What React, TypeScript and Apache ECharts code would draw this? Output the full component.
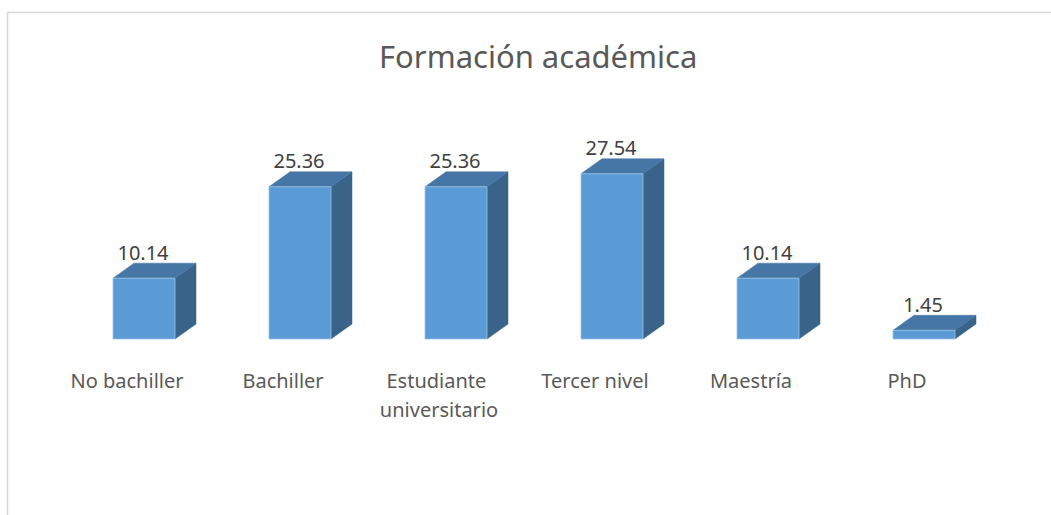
import React, { useEffect, useRef } from "react";
import * as echarts from "echarts";

const categories = [
  "No bachiller",
  "Bachiller",
  "Estudiante universitario",
  "Tercer nivel",
  "Maestría",
  "PhD",
];
const values = [10.14, 25.36, 25.36, 27.54, 10.14, 1.45];
const titleText = "Formación académica";

const FONT = "'Noto Sans', 'Open Sans', sans-serif";
const BAR_W = 62;
const DX = 21;
const DY = 15;

export default function App() {
  const ref = useRef<HTMLDivElement>(null);
  useEffect(() => {
    if (!ref.current) return;
    const chart = echarts.init(ref.current, null, { renderer: "svg" });
    const option: any = {
      animation: false,
      backgroundColor: "#ffffff",
      title: {
        text: titleText,
        left: 374,
        top: 35,
        textStyle: {
          fontFamily: FONT,
          fontSize: 31,
          fontWeight: "normal",
          color: "#595959",
        },
      },
      graphic: [
        {
          type: "rect",
          shape: { x: 7.5, y: 12.5, width: 1100, height: 600 },
          style: { fill: "none", stroke: "#d9d9d9", lineWidth: 1.5 },
          silent: true,
          z: -10,
        },
      ],
      grid: { left: 66, right: 49, top: 159, bottom: 176 },
      xAxis: {
        type: "category",
        data: categories,
        axisLine: { show: false },
        axisTick: { show: false },
        axisLabel: {
          interval: 0,
          margin: 27,
          color: "#595959",
          fontFamily: FONT,
          fontSize: 20,
          lineHeight: 29,
          width: 140,
          overflow: "break",
          padding: [0, 34, 0, 0],
        },
      },
      yAxis: {
        type: "value",
        min: 0,
        max: 30,
        show: false,
        splitLine: { show: false },
      },
      series: [
        {
          type: "custom",
          data: values.map((v, i) => [i, v]),
          renderItem: (params: any, api: any) => {
            const idx = api.value(0);
            const val = api.value(1);
            const top = api.coord([idx, val]);
            const base = api.coord([idx, 0]);
            const cx = top[0];
            const x0 = cx - BAR_W / 2;
            const x1 = cx + BAR_W / 2;
            const yt = top[1];
            const yb = base[1];
            return {
              type: "group",
              children: [
                {
                  type: "polygon",
                  shape: {
                    points: [
                      [x1, yt],
                      [x1 + DX, yt - DY],
                      [x1 + DX, yb - DY],
                      [x1, yb],
                    ],
                  },
                  style: { fill: "#3a6389", stroke: "#3a6389", lineWidth: 0.5 },
                },
                {
                  type: "polygon",
                  shape: {
                    points: [
                      [x0, yt],
                      [x0 + DX, yt - DY],
                      [x1 + DX, yt - DY],
                      [x1, yt],
                    ],
                  },
                  style: { fill: "#4576a5", stroke: "#4576a5", lineWidth: 0.5 },
                },
                {
                  type: "rect",
                  shape: { x: x0, y: yt, width: BAR_W, height: yb - yt },
                  style: { fill: "#5b9bd5", stroke: "#9dc3e6", lineWidth: 0.8 },
                },
                {
                  type: "text",
                  style: {
                    text: String(val.toFixed(2)),
                    x: cx - 1,
                    y: yt - DY - 1,
                    align: "center",
                    verticalAlign: "bottom",
                    fontFamily: FONT,
                    fontSize: 20,
                    fill: "#404040",
                  },
                },
              ],
            };
          },
        },
      ],
    };
    chart.setOption(option);
    return () => chart.dispose();
  }, []);
  return (
    <div
      ref={ref}
      style={{ position: "absolute", left: 0, top: 0, width: 1051, height: 515 }}
    />
  );
}
